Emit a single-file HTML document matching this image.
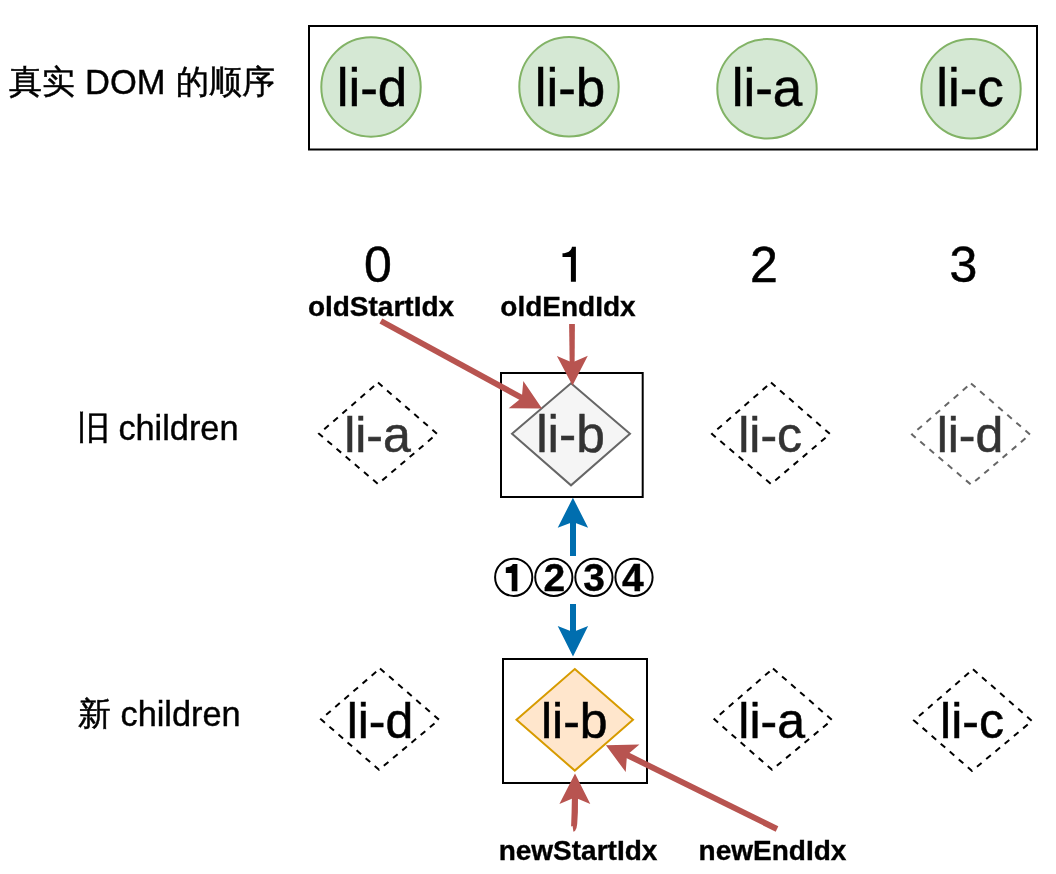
<!DOCTYPE html>
<html><head><meta charset="utf-8">
<style>
html,body{margin:0;padding:0;background:#fff;}
body{width:1056px;height:874px;overflow:hidden;position:relative;}
svg{position:absolute;left:0;top:0;will-change:transform;}
text{font-family:"Liberation Sans",sans-serif;}
</style></head>
<body>
<svg width="1056" height="874" viewBox="0 0 1056 874">
<!-- top label -->
<text x="8.7" y="92.9" font-size="33" fill="#000" stroke="#000" stroke-width="0.5">真实</text>
<text x="85.1" y="94.1" font-size="34.5" fill="#000" stroke="#000" stroke-width="0.4">DOM</text>
<text x="275" y="92.9" font-size="33.4" fill="#000" stroke="#000" stroke-width="0.5" text-anchor="end">的顺序</text>
<!-- top box -->
<rect x="309" y="26" width="728" height="123.5" fill="none" stroke="#000" stroke-width="2"/>
<g fill="#d5e8d4" stroke="#82b366" stroke-width="2">
<circle cx="371" cy="87" r="49.7"/>
<circle cx="569" cy="86.8" r="49.7"/>
<circle cx="767" cy="88.8" r="49.7"/>
<circle cx="971" cy="88.8" r="49.7"/>
</g>
<g font-size="53" fill="#000" stroke="#000" stroke-width="0.5" text-anchor="middle">
<text x="372" y="106">li-d</text>
<text x="570" y="106">li-b</text>
<text x="767" y="106">li-a</text>
<text x="970" y="106">li-c</text>
</g>
<!-- index numbers -->
<g font-size="50" fill="#000" stroke="#000" stroke-width="0.5" text-anchor="middle">
<text x="378" y="282">0</text>
<path stroke="none" d="M575.9 281.8 L570.9 281.8 L570.9 256.9 L562.5 256.9 L562.5 253.3 C567.5 253 571 251.5 572 246.75 L575.9 246.75 Z"/>
<text x="764" y="282">2</text>
<text x="963.5" y="282">3</text>
</g>
<g font-size="28" font-weight="bold" fill="#000" stroke="#000" stroke-width="0.35" text-anchor="middle">
<text x="381" y="316">oldStartIdx</text>
<text x="568" y="316">oldEndIdx</text>
<text x="578" y="860">newStartIdx</text>
<text x="772.5" y="860">newEndIdx</text>
</g>
<!-- row labels -->
<text x="76.8" y="439.2" font-size="32.6" fill="#000" stroke="#000" stroke-width="0.5">旧</text>
<text x="118.4" y="440" font-size="34.3" fill="#000" stroke="#000" stroke-width="0.4">children</text>
<text x="77.5" y="725.3" font-size="33" fill="#000" stroke="#000" stroke-width="0.5">新</text>
<text x="120.5" y="725.8" font-size="34.3" fill="#000" stroke="#000" stroke-width="0.4">children</text>

<!-- old row -->
<rect x="501" y="373" width="141.7" height="124" fill="none" stroke="#000" stroke-width="2"/>
<g fill="none" stroke="#000" stroke-width="2" stroke-dasharray="6 6">
<polygon points="378,382.6 437,433.8 378,484 319,433.8"/>
<polygon points="771,382.6 830,434 771,484 712,434"/>
</g>
<polygon points="971,383.4 1030,434.5 971,484.6 912,434.5" fill="none" stroke="#666" stroke-width="2" stroke-dasharray="6 6"/>
<polygon points="571,383.2 630,433.8 571,485.3 512,433.8" fill="#f5f5f5" stroke="#666" stroke-width="2"/>
<g font-size="50" fill="#333" stroke="#333" stroke-width="0.5" text-anchor="middle">
<text x="377.5" y="451.5">li-a</text>
<text x="570.5" y="452.3" font-size="51.5">li-b</text>
<text x="770.2" y="451.5">li-c</text>
<text x="970" y="451.5">li-d</text>
</g>

<!-- new row -->
<rect x="503" y="659" width="144" height="124" fill="none" stroke="#000" stroke-width="2"/>
<g fill="none" stroke="#000" stroke-width="2" stroke-dasharray="6 6">
<polygon points="380,668.5 439,719.7 379,769.8 321,719.3"/>
<polygon points="773,668.5 832,720 772,769.8 714.4,719.3"/>
<polygon points="973,669.3 1032,721 972,770.9 914,720.4"/>
</g>
<polygon points="574.8,669.1 633,719.7 574.8,770.6 516.5,719.7" fill="#ffe6cc" stroke="#d79b00" stroke-width="2"/>
<g font-size="50" fill="#000" stroke="#000" stroke-width="0.5" text-anchor="middle">
<text x="380" y="738">li-d</text>
<text x="574.3" y="738">li-b</text>
<text x="771.7" y="738">li-a</text>
<text x="972" y="738">li-c</text>
</g>

<!-- red arrows -->
<g stroke="#b85450" stroke-width="5.9" fill="none">
<line x1="380.9" y1="321" x2="524" y2="399"/>
<line x1="777" y1="829" x2="624" y2="753.5"/>
</g>
<g fill="#b85450">
<polygon points="569.1,324 574.9,324 574.6,366 569.7,366"/>
<polygon points="571.9,797 578,797 577.9,812 577.2,824 576.5,828 575,831 573.4,831.8 572.6,826 571.1,826.4 571.6,812"/>
<polygon points="542,408.5 523.3,380.9 521.8,397.7 508.7,408.2"/>
<polygon points="572.5,385.4 556.9,356.1 572.2,362.5 587.8,355.7"/>
<polygon points="575,773.5 559.4,803.9 574.8,797.5 590.3,803.9"/>
<polygon points="605.9,745.2 639.4,744.5 627,755 625.7,772.1"/>
</g>
<!-- blue arrows -->
<g stroke="#006eaf" stroke-width="6" fill="none">
<line x1="573" y1="556" x2="573" y2="520"/>
<line x1="573" y1="604" x2="573" y2="634"/>
</g>
<g fill="#006eaf">
<polygon points="572.9,497.8 557.7,527.7 572.9,522 588.1,527.7"/>
<polygon points="573,656.4 557.7,626.1 573,632.1 588.1,626.1"/>
</g>
<!-- circled numbers -->
<g fill="none" stroke="#000" stroke-width="2">
<circle cx="513.7" cy="577.3" r="18.6"/>
<circle cx="553.8" cy="577.3" r="18.6"/>
<circle cx="593.9" cy="577.3" r="18.6"/>
<circle cx="634" cy="577.3" r="18.6"/>
</g>
<path d="M517.4 591.2 L511.7 591.2 L511.7 572.9 L505.8 572.9 L505.8 567.5 C509.5 567.3 512 566 512.7 563.9 L517.4 563.9 Z" fill="#000"/>
<g font-size="39" font-weight="bold" fill="#000" stroke="#000" stroke-width="0.4" text-anchor="middle">
<text x="554.3" y="591.2">2</text>
<text x="594.1" y="591.4">3</text>
<text x="632.8" y="591.2">4</text>
</g>
</svg>
</body></html>
